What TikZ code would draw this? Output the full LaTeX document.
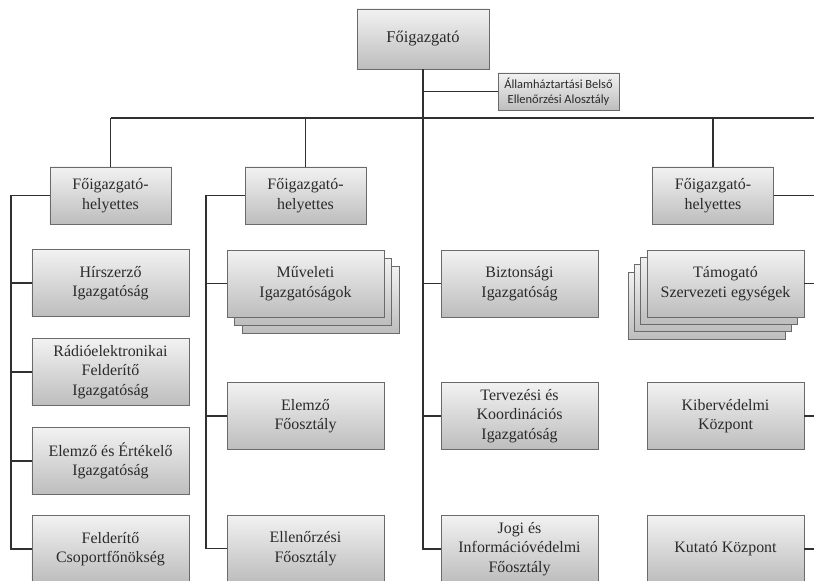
\documentclass[tikz,border=0pt]{standalone}
\usepackage{fontspec}
\setmainfont{Liberation Serif}
\newfontfamily\smallsans{Carlito}
\definecolor{boxtop}{HTML}{F2F2F2}
\definecolor{boxbot}{HTML}{BDBDBD}
\definecolor{boxline}{HTML}{6A6A6A}
\definecolor{conn}{HTML}{303030}
\definecolor{txt}{HTML}{2A2A2A}
\begin{document}
\begin{tikzpicture}[x=1bp,y=-1bp,
  orgbox/.style={draw=boxline, line width=0.9bp, top color=boxtop, bottom color=boxbot,
    align=center, inner sep=2bp, text=txt, font=\fontsize{16}{19.5}\selectfont},
  big/.style={orgbox, minimum width=157bp, minimum height=67bp},
  mid/.style={orgbox, minimum width=121bp, minimum height=57bp},
  wire/.style={draw=conn, line width=1.3bp}]
\useasboundingbox (0,0) rectangle (814,581);
\clip (0,0) rectangle (814,581);

% top
\node[orgbox, minimum width=132bp, minimum height=60bp, font=\fontsize{16.5}{19.5}\selectfont] (top) at (423,39) {Főigazgató};
\node[orgbox, minimum width=121bp, minimum height=37bp, font=\smallsans\fontsize{12.5}{15}\selectfont, inner sep=1bp] (allam) at (558.5,91.5) {Államháztartási Belső\\Ellenőrzési Alosztály};

% deputies
\node[mid] (fgh1) at (110.5,195.5) {Főigazgató-\\helyettes};
\node[mid] (fgh2) at (305.5,195.5) {Főigazgató-\\helyettes};
\node[mid] (fgh3) at (713,195.5) {Főigazgató-\\helyettes};

% column 1
\node[big] (hir) at (110.5,283) {Hírszerző\\Igazgatóság};
\node[big] (radio) at (110.5,372) {Rádióelektronikai\\Felderítő\\Igazgatóság};
\node[big] (elert) at (110.5,461) {Elemző és Értékelő\\Igazgatóság};
\node[big] (felcs) at (110.5,549) {Felderítő\\Csoportfőnökség};

% column 2
\node[big] (muv3) at (320.5,299.5) {};
\node[big] (muv2) at (313,291.5) {};
\node[big] (muv) at (305.5,283.5) {Műveleti\\Igazgatóságok};
\node[big] (elfo) at (305.5,416) {Elemző\\Főosztály};
\node[big] (ellfo) at (305.5,548.5) {Ellenőrzési\\Főosztály};

% column 3
\node[big] (bizt) at (519.5,283.5) {Biztonsági\\Igazgatóság};
\node[big] (terv) at (519.5,416) {Tervezési és\\Koordinációs\\Igazgatóság};
\node[big] (jogi) at (519.5,549) {Jogi és\\Információvédelmi\\Főosztály};

% column 4
\node[big] (tam4) at (706.5,305.5) {};
\node[big] (tam3) at (713,298) {};
\node[big] (tam2) at (719,290.5) {};
\node[big] (tam) at (725.5,283.5) {Támogató\\Szervezeti egységek};
\node[big] (kib) at (725.5,416) {Kibervédelmi\\Központ};
\node[big] (kut) at (725.5,549) {Kutató Központ};

% helper coordinates
\coordinate (bus) at (0,118);
\coordinate (rx) at (814,0);
\coordinate (c1) at (11,0);
\coordinate (c2) at (206,0);

% main spine
\draw[wire] (top.south) |- (jogi.west);
\draw[wire] (top.south |- allam.west) -- (allam.west);
\draw[wire] (top.south |- bizt.west) -- (bizt.west);
\draw[wire] (top.south |- terv.west) -- (terv.west);

% bus
\draw[wire] (fgh1.north |- bus) -- (rx |- bus);
\draw[wire] (fgh1.north) -- (fgh1.north |- bus);
\draw[wire] (fgh2.north) -- (fgh2.north |- bus);
\draw[wire] (fgh3.north) -- (fgh3.north |- bus);

% column 1
\draw[wire] (fgh1.west) -- (fgh1.west -| c1) |- (felcs.west);
\draw[wire] (c1 |- hir.west) -- (hir.west);
\draw[wire] (c1 |- radio.west) -- (radio.west);
\draw[wire] (c1 |- elert.west) -- (elert.west);

% column 2
\draw[wire] (fgh2.west) -- (fgh2.west -| c2) |- (ellfo.west);
\draw[wire] (c2 |- muv.west) -- (muv.west);
\draw[wire] (c2 |- elfo.west) -- (elfo.west);

% column 4
\draw[wire] (fgh3.east) -- (fgh3.east -| rx);
\draw[wire] (tam.east) -- (tam.east -| rx);
\draw[wire] (kib.east) -- (kib.east -| rx);
\draw[wire] (kut.east) -- (kut.east -| rx);
\end{tikzpicture}
\end{document}
